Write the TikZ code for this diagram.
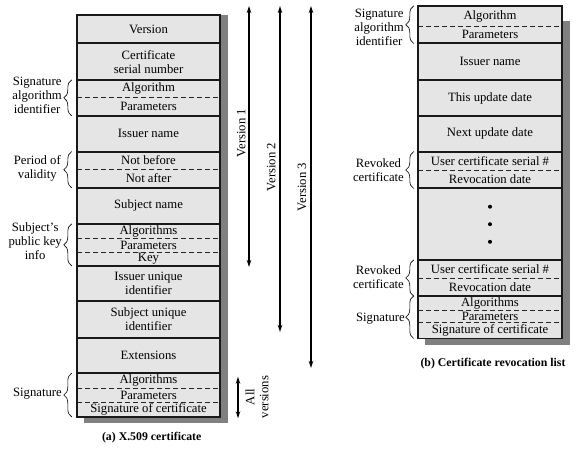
\documentclass[tikz,border=0pt]{standalone}
\usepackage{fontspec}
\setmainfont{Liberation Serif}
\usetikzlibrary{arrows.meta,decorations.pathreplacing}
\newcommand\fsz{\fontsize{12.7}{14}\selectfont}
\newcommand\capsz{\fontsize{11.8}{14}\selectfont}
\newcommand\fldbox[6]{\node[fld, minimum width=#2pt, minimum height={(#5-#4)*1pt}] (#1) at (#3,{(#4+#5)/2}) {#6};}
\begin{document}
\begin{tikzpicture}[x=1pt,y=-1pt,
  fld/.style={fill=black!10, inner sep=0pt, align=center, font=\fsz},
  box/.style={draw=black!90, line width=1.6pt},
  sepline/.style={draw=black!85, line width=0.7pt, dash pattern=on 5pt off 3pt},
  lbl/.style={align=center, anchor=east, inner sep=0pt, font=\fsz},
  brc/.style={decorate, decoration={brace, amplitude=8pt}, line width=0.6pt},
  varrow/.style={line width=1.6pt, {Stealth[length=7pt,width=4.5pt]}-{Stealth[length=7pt,width=4.5pt]}},
  vlbl/.style={rotate=90, inner sep=0pt, align=center, font=\fsz},
]
\useasboundingbox (0,0) rectangle (576,451);
% shadows
\fill[black!50] (84,15.3) rectangle (228,423.3);
\fill[black!50] (425,20.7) rectangle (570,345);
% left fields
\fldbox{ver}{143}{148.5}{15.3}{43.3}{Version}
\fldbox{csn}{143}{148.5}{43.3}{80}{Certificate\\serial number}
\fldbox{alg}{143}{148.5}{80}{97.3}{Algorithm}
\fldbox{par}{143}{148.5}{97.3}{115.7}{Parameters}
\fldbox{iss}{143}{148.5}{115.7}{151.7}{Issuer name}
\fldbox{nb}{143}{148.5}{151.7}{169.3}{Not before}
\fldbox{na}{143}{148.5}{169.3}{187.7}{Not after}
\fldbox{sn}{143}{148.5}{187.7}{224}{Subject name}
\fldbox{pka}{143}{148.5}{224}{238.3}{Algorithms}
\fldbox{pkp}{143}{148.5}{238.3}{252.3}{Parameters}
\fldbox{pkk}{143}{148.5}{252.3}{265.7}{Key}
\fldbox{iui}{143}{148.5}{265.7}{301.3}{Issuer unique\\identifier}
\fldbox{sui}{143}{148.5}{301.3}{337.7}{Subject unique\\identifier}
\fldbox{ext}{143}{148.5}{337.7}{373.3}{Extensions}
\fldbox{sga}{143}{148.5}{373.3}{388.3}{Algorithms}
\fldbox{sgp}{143}{148.5}{388.3}{402.3}{Parameters}
\fldbox{sgs}{143}{148.5}{402.3}{416.7}{Signature of certificate}
% left dashed separators
\foreach \n in {alg,nb,pka,pkp,sga,sgp}
  \draw[sepline] (\n.south west) -- (\n.south east);
% left group borders
\draw[box] (ver.north west) rectangle (ver.south east);
\draw[box] (csn.north west) rectangle (csn.south east);
\draw[box] (alg.north west) rectangle (par.south east);
\draw[box] (iss.north west) rectangle (iss.south east);
\draw[box] (nb.north west) rectangle (na.south east);
\draw[box] (sn.north west) rectangle (sn.south east);
\draw[box] (pka.north west) rectangle (pkk.south east);
\draw[box] (iui.north west) rectangle (iui.south east);
\draw[box] (sui.north west) rectangle (sui.south east);
\draw[box] (ext.north west) rectangle (ext.south east);
\draw[box] (sga.north west) rectangle (sgs.south east);
% right fields
\fldbox{ralg}{144}{490}{6}{26}{Algorithm}
\fldbox{rpar}{144}{490}{26}{43.3}{Parameters}
\fldbox{riss}{144}{490}{43.3}{80}{Issuer name}
\fldbox{rtud}{144}{490}{80}{116}{This update date}
\fldbox{rnud}{144}{490}{116}{151.7}{Next update date}
\fldbox{rus1}{144}{490}{151.7}{170}{User certificate serial \#}
\fldbox{rrd1}{144}{490}{170}{188.3}{Revocation date}
\fldbox{rdots}{144}{490}{188.3}{260}{}
\fldbox{rus2}{144}{490}{260}{277.7}{User certificate serial \#}
\fldbox{rrd2}{144}{490}{277.7}{296}{Revocation date}
\fldbox{rsga}{144}{490}{296}{310}{Algorithms}
\fldbox{rsgp}{144}{490}{310}{322.3}{Parameters}
\fldbox{rsgs}{144}{490}{322.3}{338.3}{Signature of certificate}
\foreach \n in {ralg,rus1,rus2,rsga,rsgp}
  \draw[sepline] (\n.south west) -- (\n.south east);
\draw[box] (ralg.north west) rectangle (rpar.south east);
\draw[box] (riss.north west) rectangle (riss.south east);
\draw[box] (rtud.north west) rectangle (rtud.south east);
\draw[box] (rnud.north west) rectangle (rnud.south east);
\draw[box] (rus1.north west) rectangle (rrd1.south east);
\draw[box] (rdots.north west) rectangle (rdots.south east);
\draw[box] (rus2.north west) rectangle (rrd2.south east);
\draw[box] (rsga.north west) rectangle (rsgs.south east);
\fill (490,206.7) circle[radius=2];
\fill (490,224.2) circle[radius=2];
\fill (490,241.8) circle[radius=2];
% left labels and braces
\node[lbl] (lsai) at (62,95) {Signature\\algorithm\\identifier};
\node[lbl] (lpov) at (61,168.7) {Period of\\validity};
\node[lbl] (lspk) at (62,240.7) {Subject’s\\public key\\info};
\node[lbl] (lsig) at (62,394) {Signature};
\draw[brc] ([xshift=-5pt]par.south west) -- ([xshift=-5pt]alg.north west);
\draw[brc] ([xshift=-5pt]na.south west) -- ([xshift=-5pt]nb.north west);
\draw[brc] ([xshift=-5pt]pkk.south west) -- ([xshift=-5pt]pka.north west);
\draw[brc] ([xshift=-5pt]sgs.south west) -- ([xshift=-5pt]sga.north west);
% right labels and braces
\node[lbl] (rlsai) at (404,27) {Signature\\algorithm\\identifier};
\node[lbl] (rlrc1) at (404,170) {Revoked\\certificate};
\node[lbl] (rlrc2) at (404,277.5) {Revoked\\certificate};
\node[lbl] (rlsig) at (405,319) {Signature};
\draw[brc] ([xshift=-4pt]rpar.south west) -- ([xshift=-4pt]ralg.north west);
\draw[brc] ([xshift=-4pt]rrd1.south west) -- ([xshift=-4pt]rus1.north west);
\draw[brc] ([xshift=-4pt]rrd2.south west) -- ([xshift=-4pt]rus2.north west);
\draw[brc] ([xshift=-4pt]rsgs.south west) -- ([xshift=-4pt]rsga.north west);
% version arrows
\coordinate (v1t) at (249,6);
\coordinate (v1b) at (249,267);
\coordinate (v2t) at (280,6);
\coordinate (v2b) at (280,332);
\coordinate (v3t) at (311,6);
\coordinate (v3b) at (311,368);
\coordinate (avt) at (238,376.7);
\coordinate (avb) at (238,418.3);
\draw[varrow] (v1t) -- (v1b);
\draw[varrow] (v2t) -- (v2b);
\draw[varrow] (v3t) -- (v3b);
\draw[varrow] (avt) -- (avb);
\node[vlbl] (v1l) at (241.3,133) {Version 1};
\node[vlbl] (v2l) at (271.3,167) {Version 2};
\node[vlbl] (v3l) at (302,187) {Version 3};
\node[vlbl] (avl) at (257,397) {All\\versions};
% captions
\node[font=\capsz\bfseries] (capa) at (151.7,438) {(a) X.509 certificate};
\node[font=\capsz\bfseries] (capb) at (493,363.3) {(b) Certificate revocation list};
\end{tikzpicture}
\end{document}
